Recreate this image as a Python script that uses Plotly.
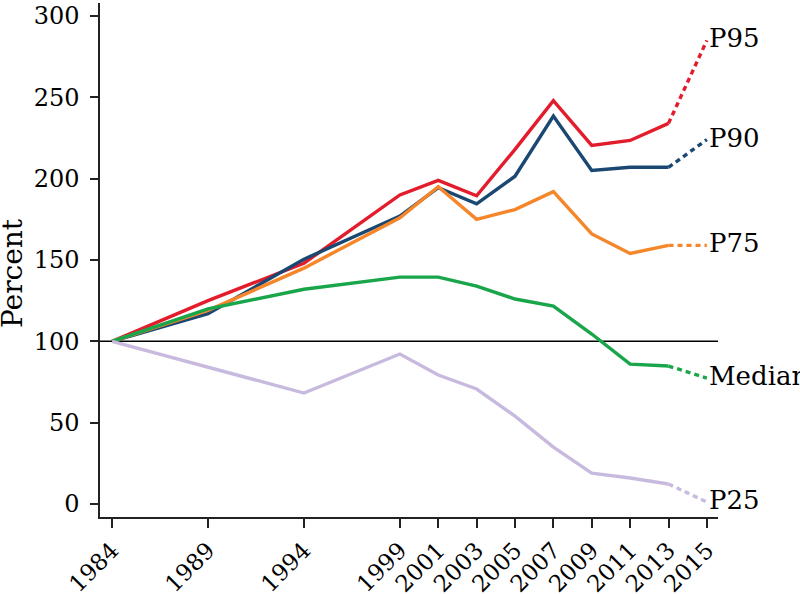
import plotly.graph_objects as go

years = [1984, 1989, 1994, 1999, 2001, 2003, 2005, 2007, 2009, 2011, 2013, 2015]
tick_labels = [str(y) for y in years]

p95 = [100, 125, 148, 190, 199, 189.5, 218, 248, 220.5, 223.5, 234, 285]
p90 = [100, 117, 150.5, 177, 194.5, 184.5, 201.5, 238.5, 205, 207, 207, 224]
p75 = [100, 119, 145, 176, 195, 175, 181, 192, 166, 154, 159, 159]
median = [100, 120, 132, 139.5, 139.5, 134, 126, 121.7, 104.5, 86, 84.8, 77.4]
p25 = [100, 84, 68.2, 92.2, 79.3, 70.7, 54, 35, 19, 16, 12.3, 1.2]

series = [
    ("P95", p95, "#e31c2c"),
    ("P90", p90, "#1b4872"),
    ("P75", p75, "#f5862a"),
    ("Median", median, "#19a64a"),
    ("P25", p25, "#c8badf"),
]

FONT = "DejaVu Serif"

fig = go.Figure()
for name, vals, color in series:
    fig.add_trace(go.Scatter(x=years[:-1], y=vals[:-1], mode="lines",
                             line=dict(color=color, width=3.4), showlegend=False,
                             hoverinfo="skip"))
    fig.add_trace(go.Scatter(x=years[-2:], y=vals[-2:], mode="lines",
                             line=dict(color=color, width=3.4, dash="5px,4px"),
                             showlegend=False, hoverinfo="skip"))
    fig.add_annotation(x=years[-1], y=vals[-1], text=name, showarrow=False,
                       xanchor="left", yanchor="middle", xshift=0, yshift=2,
                       font=dict(family=FONT, size=26, color="black"))

# y-axis title
fig.add_annotation(text="Percent", xref="paper", x=0, xanchor="center", xshift=-88,
                   yref="y", y=142, yanchor="middle", textangle=-90, showarrow=False,
                   font=dict(family=FONT, size=28, color="black"))

fig.add_shape(type="line", xref="paper", x0=0, x1=1, yref="y", y0=100, y1=100,
              line=dict(color="black", width=1.5), layer="below")

fig.update_layout(
    width=800, height=594,
    margin=dict(l=100, r=82, t=3, b=77),
    plot_bgcolor="white", paper_bgcolor="white",
    font=dict(family=FONT, size=24, color="black"),
    xaxis=dict(range=[1983.37, 2015.58], tickmode="array", tickvals=years,
               ticktext=tick_labels, tickangle=-45, showgrid=False, zeroline=False,
               showline=True, linecolor="#222", linewidth=1.5, automargin=False,
               ticks="outside", ticklen=9, tickwidth=1.5, tickcolor="#222",
               ticklabeloverflow="allow",
               tickfont=dict(family=FONT, size=23)),
    yaxis=dict(range=[-8, 308], tickvals=[0, 50, 100, 150, 200, 250, 300],
               showgrid=False, zeroline=False, showline=True, linecolor="#222",
               linewidth=1.5, ticks="outside", ticklen=8, tickwidth=1.5, automargin=False,
               tickcolor="#222", tickfont=dict(family=FONT, size=24), ticklabelstandoff=6,
               ticklabeloverflow="allow"),
)

fig.write_html("out.html", config={"displayModeBar": False},
               post_script="document.body.style.margin='0';document.body.style.overflow='hidden';")
